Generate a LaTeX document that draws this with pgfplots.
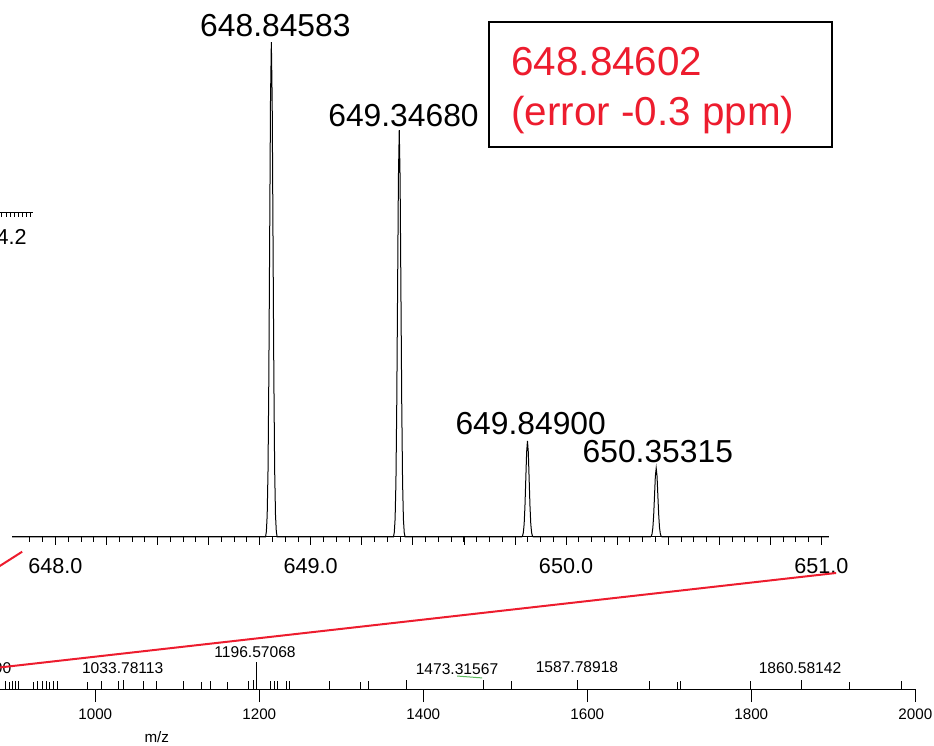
\documentclass[border=0pt]{standalone}
\usepackage{pgfplots}
\pgfplotsset{compat=1.18}
\usepackage{fontspec}
\setmainfont{Liberation Sans}
\definecolor{msred}{RGB}{237,28,46}
\definecolor{msgreen}{RGB}{90,185,90}

% zoomed isotope pattern, relative intensity
\pgfplotstableread{
mz        int
647.8300  0
648.8230  0
648.8263  1.1
648.8295  4.4
648.8328  13.5
648.8360  32.5
648.8393  60.7
648.8425  88.2
648.8458  100
648.8491  88.2
648.8523  60.7
648.8556  32.5
648.8588  13.5
648.8621  4.4
648.8653  1.1
648.8686  0
649.3240  0
649.3273  0.9
649.3305  3.6
649.3338  11.1
649.3370  26.7
649.3403  49.9
649.3435  72.5
649.3468  82.2
649.3501  72.5
649.3533  49.9
649.3566  26.7
649.3598  11.1
649.3631  3.6
649.3663  0.9
649.3696  0
649.8262  0
649.8295  0.2
649.8327  0.85
649.8360  2.6
649.8392  6.3
649.8425  11.8
649.8457  17.1
649.8490  19.4
649.8523  17.1
649.8555  11.8
649.8588  6.3
649.8620  2.6
649.8653  0.85
649.8685  0.2
649.8718  0
650.3304  0
650.3337  0.15
650.3369  0.6
650.3402  1.9
650.3434  4.5
650.3467  8.4
650.3499  12.3
650.3532  13.9
650.3565  12.3
650.3597  8.4
650.3630  4.5
650.3662  1.9
650.3695  0.6
650.3727  0.15
650.3760  0
651.0300  0
}\zoomdata

% full spectrum, sticks
\pgfplotstableread{
mz       int
890.0    30
895.0    26
899.0    30
903.0    28
906.0    30
924.0    26
929.0    30
935.0    28
940.0    30
944.0    26
949.0    30
954.0    30
990.0    26
1008.0   30
1028.8   28
1033.78  33
1059.0   28
1075.0   30
1107.0   28
1130.0   26
1140.0   30
1161.0   26
1187.0   30
1193.0   33
1196.57  100
1214.0   28
1218.0   30
1222.0   28
1233.0   30
1237.0   28
1285.0   30
1323.0   26
1333.0   28
1380.0   33
1473.32  33
1507.0   30
1587.79  35
1675.6   30
1709.8   26
1713.0   30
1798.4   30
1860.58  33
1920.0   26
1983.0   28
}\fulldata

\begin{document}
\begin{tikzpicture}[x=0.5pt,y=0.5pt]
\path[use as bounding box, clip] (0,0) rectangle (934,746);

% piece of a neighbouring axis, cut by the left edge
\draw[line width=0.5pt] (0,533) -- (33,533);
\foreach \t in {1.7,6,10,14,18.3,22.3,26.7,30} \draw[line width=0.4pt] (\t,533) -- (\t,529);
\node[anchor=base east, inner sep=0, font=\fontsize{10.8}{13}\selectfont] at (27,501) {1314.2};

\begin{axis}[
  at={(6pt,104.5pt)}, anchor=south west,
  scale only axis, width=408.5pt, height=268.5pt,
  xmin=647.83, xmax=651.03, ymin=0, ymax=108.5,
  axis x line=bottom, axis y line=none,
  x axis line style={-, line width=0.5pt},
  tick align=outside,
  xtick={648.0,648.2,648.4,648.6,648.8,649.0,649.2,649.4,649.6,649.8,650.0,650.2,650.4,650.6,650.8,651.0},
  xticklabels={648.0,,,,,649.0,,,,,650.0,,,,,651.0},
  minor xtick={647.9,647.95,...,651.01},
  major tick length=4pt, minor tick length=2.5pt,
  every tick/.style={black, line width=0.4pt},
  xticklabel style={font=\fontsize{10.8}{13}\selectfont, anchor=base, yshift=-14.3pt},
  clip=false,
]
\addplot[black, line width=0.5pt] table[x=mz, y=int] {\zoomdata};
\node[anchor=base, inner sep=0, yshift=3pt, font=\fontsize{15.9}{18}\selectfont] at (axis cs:648.8616,100) {648.84583};
\node[anchor=base, inner sep=0, yshift=2pt, font=\fontsize{15.9}{18}\selectfont] at (axis cs:649.3635,82.2) {649.34680};
\node[anchor=base, inner sep=0, yshift=3pt, font=\fontsize{15.9}{18}\selectfont] at (axis cs:649.8616,19.4) {649.84900};
\node[anchor=base, inner sep=0, yshift=3pt, font=\fontsize{15.9}{18}\selectfont] at (axis cs:650.3596,13.9) {650.35315};
\coordinate (t1) at (axis cs:647.87,-2.97);
\coordinate (t2) at (axis cs:651.058,-7.27);
\end{axis}

\begin{axis}[
  at={(-300.85pt,28.5pt)}, anchor=south west,
  scale only axis, width=758.5pt, height=14.85pt,
  xmin=150, xmax=2000, ymin=0, ymax=110,
  axis x line=bottom, axis y line=none,
  x axis line style={-, line width=0.5pt},
  tick align=outside,
  xtick={1000,1200,...,2000},
  major tick length=6.5pt,
  every tick/.style={black, line width=0.4pt},
  /pgf/number format/assume math mode=true,
  /pgf/number format/1000 sep={},
  xticklabel style={font=\fontsize{7.6}{9}\selectfont, anchor=base, yshift=-8.6pt},
  xlabel={m/z},
  xlabel style={font=\fontsize{7.6}{9}\selectfont, at={(axis description cs:0.5,0)}, anchor=base, yshift=-26.5pt},
  clip=false,
]
\addplot[ycomb, black, line width=0.45pt] table[x=mz, y=int] {\fulldata};
\draw[msgreen, line width=0.5pt] (axis cs:1441.3,48) -- (axis cs:1471.8,41);
\node[anchor=base east, inner sep=0, font=\fontsize{7.8}{9}\selectfont] at (axis cs:898,59) {848.35590};
\node[anchor=base, inner sep=0, font=\fontsize{7.8}{9}\selectfont] at (axis cs:1033.4,56) {1033.78113};
\node[anchor=base, inner sep=0, font=\fontsize{7.8}{9}\selectfont] at (axis cs:1194.8,118) {1196.57068};
\node[anchor=base, inner sep=0, font=\fontsize{7.8}{9}\selectfont] at (axis cs:1441.1,52) {1473.31567};
\node[anchor=base, inner sep=0, font=\fontsize{7.8}{9}\selectfont] at (axis cs:1587.4,60) {1587.78918};
\node[anchor=base, inner sep=0, font=\fontsize{7.8}{9}\selectfont] at (axis cs:1859.4,56) {1860.58142};
\coordinate (z1) at (axis cs:648,0);
\coordinate (z2) at (axis cs:651,0);
\end{axis}

% zoom connectors
\draw[msred, line width=1pt] (z1) -- (t1);
\draw[msred, line width=1pt] (z2) -- (t2);

% calculated mass box
\draw[black, line width=0.75pt, fill=white] (489,724) rectangle (832,599);
\node[anchor=base west, inner sep=0, text=msred, font=\fontsize{20.2}{24}\selectfont] at (511,670.3) {648.84602};
\node[anchor=base west, inner sep=0, text=msred, font=\fontsize{20.2}{24}\selectfont] at (511,620.5) {(error -0.3 ppm)};
\end{tikzpicture}
\end{document}
